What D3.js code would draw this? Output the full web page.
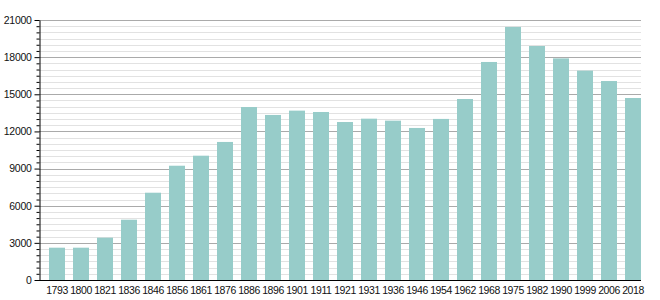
<!DOCTYPE html>
<html lang="en">
<head>
<meta charset="UTF-8">
<title>Population</title>
<script src="https://cdn.jsdelivr.net/npm/d3@7"></script>
<style>
  body { margin: 0; background: #fff; }
  text { font-family: "Liberation Sans", Arial, sans-serif; fill: #111; }
</style>
</head>
<body>
<div id="fig"></div>
<script>
    // census years and population
    const years = ["1793","1800","1821","1836","1846","1856","1861","1876","1886","1896",
        "1901","1911","1921","1931","1936","1946","1954","1962","1968","1975",
        "1982","1990","1999","2006","2018"]
    const population = [2610, 2610, 3420, 4870, 7050, 9230, 10040, 11150, 13970, 13330,
        13680, 13570, 12760, 13030, 12870, 12280, 13010, 14620, 17610, 20440,
        18900, 17900, 16910, 16070, 14700]
    const yTicks = [0, 3000, 6000, 9000, 12000, 15000, 18000, 21000]

    const svg = d3.select("#fig").append("svg")
        .attr("width", 660).attr("height", 300)

    const m = {left: 39, right: 641, top: 20, bottom: 280}

    const y = d3.scaleLinear().domain([0, 21000]).range([m.bottom, m.top])
    const x = d3.scaleBand().domain(years)
        .range([49, m.right]).paddingInner(1/3).paddingOuter(0)

    // grid: minor every 500, major every 3000
    const minor = d3.range(500, 21001, 500).filter(v => v % 3000 != 0)
    svg.append("g").selectAll("line").data(minor).enter().append("line")
        .attr("x1", m.left).attr("x2", m.right)
        .attr("y1", d => Math.round(y(d)) + 0.5).attr("y2", d => Math.round(y(d)) + 0.5)
        .attr("stroke", "#e2e2e2")
    svg.append("g").selectAll("line").data(yTicks.slice(1)).enter().append("line")
        .attr("x1", m.left).attr("x2", m.right)
        .attr("y1", d => Math.round(y(d)) + 0.5).attr("y2", d => Math.round(y(d)) + 0.5)
        .attr("stroke", "#aaa")

    // bars
    svg.append("g").selectAll("rect").data(years).enter().append("rect")
        .attr("x", d => x(d))
        .attr("width", x.bandwidth())
        .attr("y", (d, i) => y(population[i]))
        .attr("height", (d, i) => m.bottom - y(population[i]))
        .attr("fill", "#97ccc9")

    // y axis with minor ticks
    const yMinor = svg.append("g").attr("transform", `translate(${m.left + 0.5},0)`)
        .call(d3.axisLeft(y).tickValues(minor).tickSize(3).tickFormat(""))
    yMinor.select(".domain").remove()
    yMinor.selectAll("line").attr("stroke", "#000")
    const yAxis = svg.append("g").attr("transform", `translate(${m.left + 0.5},0)`)
        .call(d3.axisLeft(y).tickValues(yTicks).tickSize(5).tickPadding(3)
            .tickSizeOuter(0).tickFormat(d3.format("d")))
    yAxis.selectAll("text").style("font-size", "10.5px").style("letter-spacing", "-0.3px")
    yAxis.select(".domain").attr("stroke", "#000")

    // x axis
    const xAxis = svg.append("g").attr("transform", `translate(0,${m.bottom + 0.5})`)
        .call(d3.axisBottom(x).tickSize(0).tickPadding(6))
    xAxis.select(".domain").attr("d", `M${m.left},0H${m.right}`).attr("stroke", "#000")
    xAxis.selectAll("text").style("font-size", "10.5px").style("letter-spacing", "-0.4px")
</script>
</body>
</html>
